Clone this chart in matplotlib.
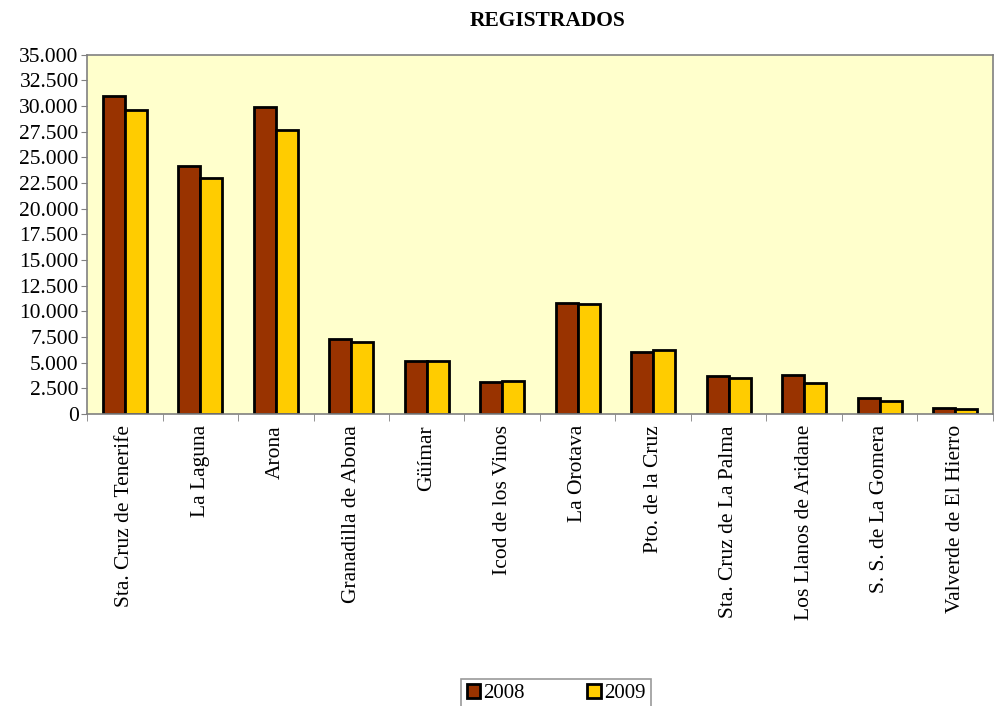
import numpy as np
import matplotlib
matplotlib.use("Agg")
import matplotlib.pyplot as plt
from matplotlib.ticker import FuncFormatter, FixedLocator

plt.rcParams['font.family'] = ['Liberation Serif', 'DejaVu Serif']

municipios = ["Sta. Cruz de Tenerife", "La Laguna", "Arona", "Granadilla de Abona",
              "Güímar", "Icod de los Vinos", "La Orotava", "Pto. de la Cruz",
              "Sta. Cruz de La Palma", "Los Llanos de Aridane", "S. S. de La Gomera",
              "Valverde de El Hierro"]
reg_2008 = [30950, 24120, 29930, 7310, 5170, 3160, 10780, 6080, 3700, 3800, 1530, 590]
reg_2009 = [29610, 22960, 27630, 7010, 5160, 3210, 10680, 6230, 3480, 3060, 1240, 460]

fig = plt.figure(figsize=(9.94, 7.06), dpi=100)
ax = fig.add_axes([87/994, 1 - 414/706, (993 - 87)/994, (414 - 54.5)/706])
ax.set_facecolor("#FFFFCC")

x = np.arange(len(municipios))
w = 0.29
ax.bar(x - w/2, reg_2008, w, color="#993300", edgecolor="black", linewidth=2, label="2008")
ax.bar(x + w/2, reg_2009, w, color="#FFCC00", edgecolor="black", linewidth=2, label="2009")

ax.set_xlim(-0.5, len(municipios) - 0.5)
ax.set_ylim(0, 35000)
ax.set_yticks(np.arange(0, 35001, 2500))
ax.yaxis.set_major_formatter(FuncFormatter(lambda v, p: f"{int(v):,}".replace(",", ".")))
ax.set_xticks(x)
ax.set_xticklabels(municipios, rotation=90, fontsize=15.5)
ax.tick_params(axis='x', which='major', length=0, pad=8)
ax.xaxis.set_minor_locator(FixedLocator(np.arange(-0.5, len(municipios), 1)))
ax.tick_params(axis='x', which='minor', length=5, color="#808080")
ax.tick_params(axis='y', labelsize=15.5, length=4, color="#808080", pad=2)

for s in ax.spines.values():
    s.set_color("#808080")
    s.set_linewidth(1.2)

fig.text(548/994, 1 - 21/706, "REGISTRADOS", ha="center", va="center",
         fontsize=15.5, fontweight="bold")

leg = fig.legend(loc="upper center", bbox_to_anchor=(556/994, 1 - 679/706), ncol=2,
                 fontsize=15, frameon=True, fancybox=False, edgecolor="#808080",
                 handlelength=0.65, handleheight=0.65, handletextpad=0.15,
                 columnspacing=3.0, borderpad=0.25, borderaxespad=0)
leg.get_frame().set_linewidth(1.2)

fig.savefig("out.png", dpi=100)
